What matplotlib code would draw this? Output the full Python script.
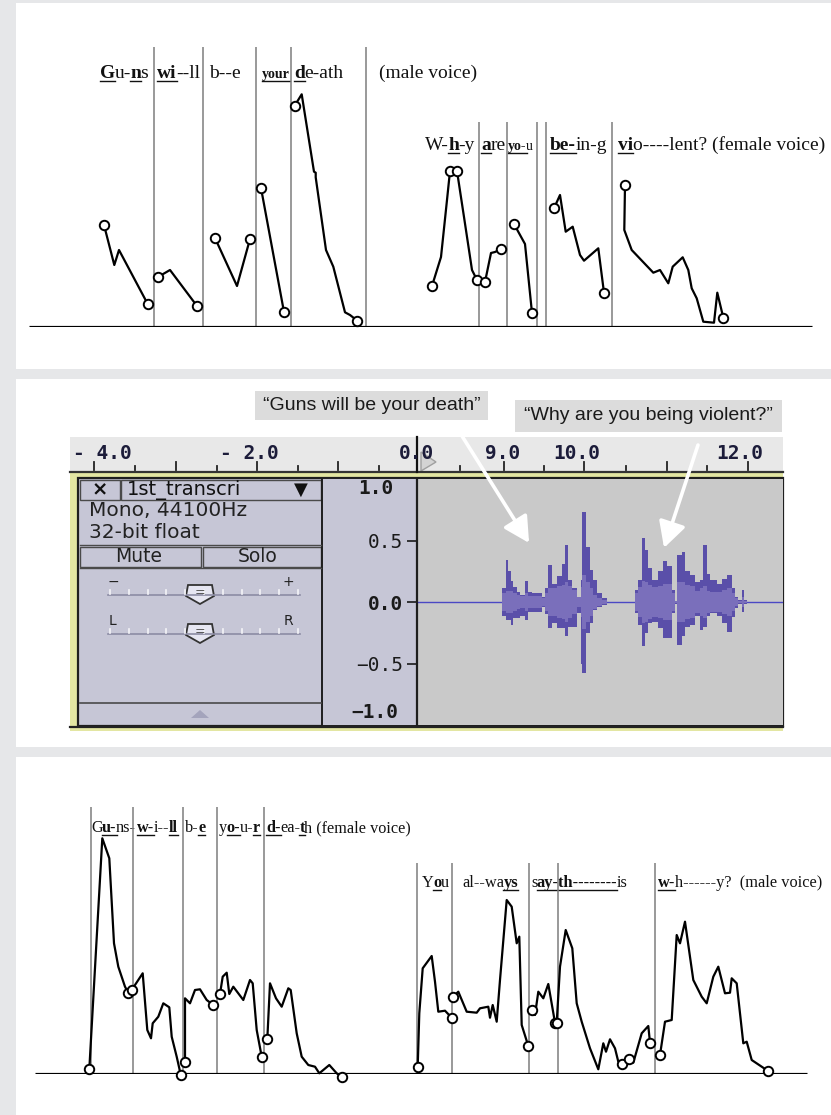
import numpy as np
import matplotlib
matplotlib.use("Agg")
import matplotlib.pyplot as plt
from matplotlib.patches import Rectangle, Polygon

W, H = 831, 1115

# ---------------------------------------------------------------- data
# pitch contours: x = time position, h = pitch height above the baseline
# top panel: "Guns will be your death" (male) / "Why are you being violent?" (female)
t_guns_x = [104, 114.3, 119, 147.7]
t_guns_h = [102, 62, 77, 23]
t_will_x = [158, 170, 197]
t_will_h = [50, 57, 21]
t_be_x = [215, 237, 250]
t_be_h = [89, 41, 88]
t_your_x = [261, 284]
t_your_h = [139, 15]
t_death_x = [294.7, 301.7, 314, 315.7, 315.7, 326, 333.3, 345, 350, 357.3]
t_death_h = [221.3, 232.7, 155.3, 154.3, 149.7, 77, 60.3, 14.7, 12, 6.3]
t_why_x = [432, 441, 447, 450, 457, 464, 472, 477]
t_why_h = [41, 70, 127, 156, 156, 110, 57, 47]
t_are_x = [485, 491, 495, 501]
t_are_h = [45, 74, 75, 78]
t_you_x = [514, 525, 532]
t_you_h = [103, 83, 14]
t_being_x = [554, 560, 565.7, 572.7, 580, 584, 598.3, 604]
t_being_h = [118.7, 132, 95.3, 100.3, 72, 66.3, 78.7, 34.3]
t_viol_x = [625, 624.3, 631.7, 653.3, 660, 668.3, 672.7, 682.7, 688.3, 691.7,
            696.7, 703.3, 714, 717.3, 723.3]
t_viol_h = [142, 97, 77, 54.3, 57, 43.7, 60.3, 69.7, 57, 38.7, 28.7, 5.3, 4.3,
            34.3, 9.3]
top_segments = [(t_guns_x, t_guns_h, [0, 3]), (t_will_x, t_will_h, [0, 2]),
                (t_be_x, t_be_h, [0, 2]), (t_your_x, t_your_h, [0, 1]),
                (t_death_x, t_death_h, [0, 9]), (t_why_x, t_why_h, [0, 3, 4, 7]),
                (t_are_x, t_are_h, [0, 3]), (t_you_x, t_you_h, [0, 2]),
                (t_being_x, t_being_h, [0, 7]), (t_viol_x, t_viol_h, [0, 14])]
top_bounds_a = [154, 203, 256, 291, 366]
top_bounds_b = [479, 507, 537, 546, 612]

# bottom panel: "Guns will be your death" (female) / "You always say this why?" (male)
b_guns_x = [89.3, 102.3, 109.3, 114, 118.3, 125, 128.3]
b_guns_h = [4.7, 235.7, 215.7, 130.7, 107.3, 87.3, 81.3]
b_will_x = [131.7, 142.7, 147.3, 151, 152.7, 158.3, 163.3, 169.3, 171.7, 176.7,
            179.3, 180.7]
b_will_h = [84, 100.7, 44, 35.7, 50.7, 57.3, 70.7, 66.7, 37.3, 17.3, 5.7, -1]
b_be_x = [185, 185, 190, 195, 200, 206.7, 213.3]
b_be_h = [12.3, 75.7, 70.7, 84, 84.7, 74, 69]
b_your_x = [220, 222.7, 226.7, 229.3, 233.3, 243.3, 250, 252.7, 256.7, 261.7]
b_your_h = [80, 97.3, 101.3, 80, 87.3, 74, 94, 90.7, 44, 17.3]
b_death_x = [267.3, 270, 276, 281.7, 288.3, 290.7, 296.7, 301.7, 308.3, 315,
             319.3, 329.3, 336.7, 342.3]
b_death_h = [34.7, 90.7, 75.7, 67.3, 85.7, 84, 40.7, 17.3, 9, 7.3, 0.7, 9, 0.7,
             -3.3]
b_you_x = [417.7, 419.3, 422.7, 431.7, 435, 438.3, 445, 451.7]
b_you_h = [7.3, 60.7, 105.7, 118, 92.3, 62.3, 63.3, 56.3]
b_always_x = [452.7, 458.3, 466.7, 476.7, 480, 488.3, 490, 492.7, 496.7, 500,
              506.7, 511.7, 516.7, 519.3, 521.7, 528.3]
b_always_h = [76.7, 82.3, 62.3, 61.3, 65.7, 67.3, 56.3, 69, 52.3, 94, 174,
              167.3, 130.7, 137.3, 49, 28]
b_say_x = [532.3, 535, 538.3, 543.3, 548.3, 555]
b_say_h = [64, 59, 82.3, 75.7, 90, 51.3]
b_this_x = [556.7, 560, 565.7, 572.3, 576.7, 581.7, 590, 598.3, 603.3, 606, 610,
            615, 618.3, 621.7, 629.3, 633.3, 641.7, 648.3, 650]
b_this_h = [51.3, 107.3, 144, 125.7, 70.7, 52.3, 25.7, 4.7, 30.7, 22.3, 34.7,
            25.7, 12.3, 10, 14.7, 11.3, 40.7, 48, 31.3]
b_whyy_x = [660, 665, 671.7, 676.7, 680, 685, 693.3, 701.7, 706.7, 713.3, 718.3,
            725, 730, 731.7, 736.7, 743.3, 746.7, 751.7, 761.7, 767.7]
b_whyy_h = [19, 52.3, 54, 139, 130.7, 152.3, 94, 77.3, 70.7, 97.3, 107.3, 80.7,
            81.3, 95.7, 90.7, 30.7, 32.3, 14, 7.3, 3.3]
bottom_segments = [(b_guns_x, b_guns_h, [0, 6]), (b_will_x, b_will_h, [0, 11]),
                   (b_be_x, b_be_h, [0, 6]), (b_your_x, b_your_h, [0, 9]),
                   (b_death_x, b_death_h, [0, 13]), (b_you_x, b_you_h, [0, 7]),
                   (b_always_x, b_always_h, [0, 15]), (b_say_x, b_say_h, [0, 5]),
                   (b_this_x, b_this_h, [0, 13, 14, 18]),
                   (b_whyy_x, b_whyy_h, [0, 19])]
bot_bounds_a = [91, 133, 183, 217, 264]
bot_bounds_b = [417, 452, 529, 558, 655]

# waveform (seconds, amplitude): segment edges, peak max/min and rms
wave1_t = [9.004, 9.049, 9.077, 9.110, 9.138, 9.179, 9.220, 9.280, 9.321, 9.362,
           9.484, 9.524, 9.565, 9.613, 9.667, 9.728, 9.768, 9.801, 9.857, 9.911,
           9.963, 9.979, 10.021, 10.073, 10.113, 10.155, 10.216, 10.277]
wave1_max = [0.11, 0.34, 0.25, 0.17, 0.125, 0.084, 0.057, 0.17, 0.084, 0.07,
             0.043, 0.11, 0.30, 0.15, 0.21, 0.31, 0.46, 0.18, 0.11, 0.043, 0.18,
             0.73, 0.45, 0.26, 0.18, 0.07, 0.03]
wave1_min = [-0.11, -0.15, -0.15, -0.19, -0.13, -0.13, -0.11, -0.15, -0.08,
             -0.08, -0.04, -0.10, -0.21, -0.17, -0.21, -0.21, -0.28, -0.20,
             -0.20, -0.09, -0.50, -0.58, -0.25, -0.17, -0.065, -0.04, -0.025]
wave1_rms = [0.07, 0.09, 0.09, 0.09, 0.07, 0.06, 0.05, 0.07, 0.05, 0.05, 0.03,
             0.07, 0.11, 0.11, 0.13, 0.14, 0.16, 0.13, 0.10, 0.04, 0.12, 0.22,
             0.16, 0.11, 0.06, 0.03, 0.015]
wave2_t = [10.622, 10.659, 10.704, 10.744, 10.784, 10.826, 10.906, 10.967,
           11.009, 11.070, 11.110, 11.138, 11.191, 11.232, 11.293, 11.354,
           11.415, 11.455, 11.496, 11.537, 11.618, 11.679, 11.740, 11.801,
           11.841, 11.882, 11.923, 11.951, 11.984]
wave2_max = [0.097, 0.18, 0.52, 0.42, 0.28, 0.18, 0.25, 0.33, 0.29, 0.10, 0.01,
             0.38, 0.41, 0.25, 0.22, 0.16, 0.18, 0.46, 0.23, 0.18, 0.15, 0.19,
             0.22, 0.11, 0.04, 0.015, 0.10, 0.015]
wave2_min = [-0.09, -0.19, -0.36, -0.25, -0.17, -0.16, -0.21, -0.29, -0.29,
             -0.09, -0.02, -0.35, -0.28, -0.20, -0.19, -0.11, -0.23, -0.20,
             -0.11, -0.09, -0.11, -0.17, -0.24, -0.12, -0.05, -0.015, -0.08,
             -0.015]
wave2_rms = [0.07, 0.12, 0.17, 0.16, 0.14, 0.12, 0.13, 0.15, 0.15, 0.07, 0.01,
             0.16, 0.16, 0.14, 0.13, 0.09, 0.11, 0.13, 0.09, 0.08, 0.08, 0.10,
             0.11, 0.07, 0.03, 0.01, 0.04, 0.01]

# labels: (x start, [(text, bold, underline[, size])])
top_left_words = [(100, [("G", 1, 1), ("u-", 0, 0), ("n", 1, 1), ("s", 0, 0)]),
                  (157, [("wi", 1, 1), ("--ll", 0, 0)]),
                  (209, [("b--e", 0, 0)]),
                  (262, [("your", 1, 1, 10)]),
                  (294, [("d", 1, 1), ("e-ath", 0, 0)]),
                  (379, [("(male voice)", 0, 0)])]
top_right_words = [(425, [("W-", 0, 0), ("h", 1, 1), ("-y", 0, 0)]),
                   (481, [("a", 1, 1), ("re", 0, 0)]),
                   (508, [("yo-", 1, 1, 10), ("u", 0, 0, 10)]),
                   (550, [("be-", 1, 1), ("in-g", 0, 0)]),
                   (618, [("vi", 1, 1), ("o----lent? (female voice)", 0, 0)])]
bot_left_words = [(91, [("G", 0, 0), ("u-", 1, 1), ("ns-", 0, 0)]),
                  (137, [("w-", 1, 1), ("i--", 0, 0), ("ll", 1, 1)]),
                  (185, [("b-", 0, 0), ("e", 1, 1)]),
                  (219, [("y", 0, 0), ("o-", 1, 1), ("u-", 0, 0), ("r", 1, 1)]),
                  (266, [("d-", 1, 1), ("ea-", 0, 0), ("t", 1, 1),
                         ("h (female voice)", 0, 0)])]
bot_right_words = [(422, [("Y", 0, 0), ("o", 1, 1), ("u", 0, 0)]),
                   (462, [("al--wa", 0, 0), ("ys", 1, 1)]),
                   (531, [("s", 0, 0), ("ay-th--------", 1, 1), ("is", 0, 0)]),
                   (658, [("w-", 1, 1), ("h------y?  (male voice)", 0, 0)])]

ruler_labels = ["- 4.0", "- 2.0", "0.0", "9.0", "10.0", "12.0"]
ruler_label_x = [73, 220, 399, 485, 553, 716]
ruler_ticks_x = [94, 135, 176, 217, 257, 298, 338, 379,
                 460, 504, 544, 584, 626, 667, 707, 748]
ruler_ticks_major = [1, 0, 1, 0, 1, 0, 1, 0, 0, 1, 0, 1, 0, 1, 0, 1]

# ---------------------------------------------------------------- figure
fig = plt.figure(figsize=(W / 100, H / 100), dpi=100)
fig.patch.set_facecolor("#e6e7e9")
bg = fig.add_axes([0, 0, 1, 1])
bg.set_xlim(0, W)
bg.set_ylim(H, 0)
bg.axis("off")
renderer = fig.canvas.get_renderer()


def px_axes(x0, y0, x1, y1):
    ax = fig.add_axes([x0 / W, 1 - y1 / H, (x1 - x0) / W, (y1 - y0) / H])
    return ax


def rich(words, y, size):
    inv = bg.transData.inverted()
    for x, pieces in words:
        for p in pieces:
            s, bold, under = p[:3]
            fs = p[3] if len(p) > 3 else size
            t = bg.text(x, y, s, fontsize=fs, family="Liberation Serif",
                        fontweight="bold" if bold else "normal",
                        va="baseline", ha="left", color="#111")
            bb = t.get_window_extent(renderer)
            x0 = inv.transform((bb.x0, bb.y0))[0]
            x1 = inv.transform((bb.x1, bb.y0))[0]
            if under:
                bg.plot([x0, x1], [y + 2.5, y + 2.5], color="#111", lw=1.0)
            x = x1 - 0.6


def contour_panel(y_top, y_base, segments, bounds_a, top_a, bounds_b, top_b,
                  x_lo, x_hi):
    ax = px_axes(0, y_top, W, y_base)
    ax.set_xlim(0, W)
    ax.set_ylim(0, y_base - y_top)
    ax.axis("off")
    ax.patch.set_alpha(0)
    ax.vlines(bounds_a, 0, y_base - top_a, color="#7d7d7d", lw=1.1, zorder=1)
    ax.vlines(bounds_b, 0, y_base - top_b, color="#7d7d7d", lw=1.1, zorder=1)
    ax.hlines(0, x_lo, x_hi, color="black", lw=2.3, zorder=2)
    for xs, hs, circ in segments:
        ax.plot(xs, hs, color="black", lw=1.6, zorder=3, clip_on=False)
        ax.plot([xs[i] for i in circ], [hs[i] for i in circ], "o", ms=6.8,
                mfc="white", mec="black", mew=1.4, zorder=4, clip_on=False)
    return ax


# white panels
for y0, y1 in [(3, 369), (379, 747), (757, H)]:
    bg.add_patch(Rectangle((16, y0), W - 16, y1 - y0, fc="white", ec="none"))

# ---------------------------------------------------------------- pitch panels
contour_panel(0, 327, top_segments, top_bounds_a, 47, top_bounds_b, 122, 29, 812)
rich(top_left_words, 78, 14)
rich(top_right_words, 150, 14)

contour_panel(757, 1074, bottom_segments, bot_bounds_a, 807, bot_bounds_b, 863,
              35, 807)
rich(bot_left_words, 832, 11.7)
rich(bot_right_words, 887, 11.8)

# ---------------------------------------------------------------- audacity screenshot
panel_c = "#c6c6d6"
edge_c = "#4a4a4a"
mono = "DejaVu Sans Mono"
sans = "DejaVu Sans"

bg.add_patch(Rectangle((70, 437), 713, 35, fc="#e8e8e8", ec="none"))
bg.add_patch(Rectangle((70, 472), 713, 259, fc="#e3e6a2", ec="none"))
bg.plot([70, 783], [472, 472], color="#333", lw=1.6)
bg.add_patch(Rectangle((78, 478), 705, 248, fc=panel_c, ec="#1e1e1e", lw=1.6))
bg.plot([70, 783], [727, 727], color="#222", lw=1.6)

for lab, x in zip(ruler_labels, ruler_label_x):
    bg.text(x, 459, lab, family=mono, fontweight="bold", fontsize=14,
            color="#1c1c3a", va="baseline", ha="left")
for x, major in zip(ruler_ticks_x, ruler_ticks_major):
    bg.plot([x, x], [462 if major else 466, 470], color="#222", lw=1.3)
bg.plot([417, 417], [437, 472], color="#111", lw=1.6)
bg.add_patch(Polygon([[421, 452], [436, 462], [421, 471]], closed=True,
                     fc="#d4d4d4", ec="#a0a0a0", lw=1))

# track control panel
bg.add_patch(Rectangle((80, 480), 40, 20, fc=panel_c, ec=edge_c, lw=1))
bg.add_patch(Rectangle((121, 480), 200, 20, fc=panel_c, ec=edge_c, lw=1))
bg.text(100, 490, "×", family=sans, fontweight="bold", fontsize=14,
        ha="center", va="center", color="#111")
bg.text(127, 490, "1st_transcri", family=sans, fontsize=14, ha="left",
        va="center", color="#111")
bg.text(301, 490, "▼", family=sans, fontsize=13, ha="center", va="center",
        color="#111")
bg.text(89, 510, "Mono, 44100Hz", family=sans, fontsize=14.5, ha="left",
        va="center", color="#222")
bg.text(89, 533, "32-bit float", family=sans, fontsize=14.5, ha="left",
        va="center", color="#222")
bg.plot([80, 321], [545, 545], color=edge_c, lw=1)
bg.add_patch(Rectangle((80, 547), 121, 20, fc=panel_c, ec=edge_c, lw=1))
bg.add_patch(Rectangle((203, 547), 118, 20, fc=panel_c, ec=edge_c, lw=1))
bg.text(139, 557, "Mute", family=sans, fontsize=13.5, ha="center", va="center",
        color="#222")
bg.text(258, 557, "Solo", family=sans, fontsize=13.5, ha="center", va="center",
        color="#222")
bg.plot([80, 321], [568, 568], color=edge_c, lw=1)

for y_track, lab_l, lab_r in [(595, "−", "+"), (634, "L", "R")]:
    bg.plot([108, 300], [y_track, y_track], color="#8c8ca4", lw=1.2)
    for xt in np.linspace(110, 298, 11):
        bg.plot([xt, xt], [y_track - 5, y_track - 1], color="#f4f4f8", lw=1.2)
    bg.text(113, y_track - 13, lab_l, family=sans, fontsize=10, ha="center",
            va="center", color="#222")
    bg.text(288, y_track - 13, lab_r, family=sans, fontsize=10, ha="center",
            va="center", color="#222")
    bg.add_patch(Polygon([[188, y_track - 10], [212, y_track - 10],
                          [214, y_track + 1], [200, y_track + 9],
                          [186, y_track + 1]], closed=True, fc="#e6e6f2",
                         ec="#333", lw=1.3))
    bg.text(200, y_track - 2, "=", family=sans, fontsize=9, ha="center",
            va="center", color="#555")

bg.plot([80, 321], [703, 703], color=edge_c, lw=1.2)
bg.add_patch(Polygon([[191, 718], [209, 718], [200, 710]], closed=True,
                     fc="#a4a4bc", ec="none"))

# vertical scale panel
bg.add_patch(Rectangle((322, 478), 95, 248, fc=panel_c, ec="#1e1e1e", lw=1.4))
bg.text(376, 489, "1.0", family=mono, fontweight="bold", fontsize=14,
        ha="center", va="center", color="#1a1a1a")
bg.text(398, 713, "−1.0", family=mono, fontweight="bold", fontsize=14,
        ha="right", va="center", color="#1a1a1a")

# waveform
wave = px_axes(417, 479, 783, 725)
wave.set_facecolor("#c9c9c9")
wave.set_xlim(7.963, 12.427)
wave.set_ylim(-1, 1)
wave.set_xticks([])
wave.set_yticks([0.5, 0.0, -0.5])
wave.set_yticklabels(["0.5", "0.0", "−0.5"])
wave.tick_params(axis="y", direction="out", length=7, width=1.2, pad=3,
                 labelsize=14, colors="#1a1a1a")
for lab in wave.get_yticklabels():
    lab.set_family(mono)
    if lab.get_text() == "0.0":
        lab.set_fontweight("bold")
for side in ["top", "right", "bottom"]:
    wave.spines[side].set_visible(False)
wave.spines["left"].set_color("#1e1e1e")
wave.spines["left"].set_linewidth(1.6)
wave.axhline(0, color="#4b48c4", lw=1.0, zorder=1)

for tt, mx, mn, rms in [(wave1_t, wave1_max, wave1_min, wave1_rms),
                        (wave2_t, wave2_max, wave2_min, wave2_rms)]:
    wave.fill_between(tt, mn + mn[-1:], mx + mx[-1:], step="post",
                      color="#5a4fa9", lw=0, zorder=2)
    wave.fill_between(tt, [-v for v in rms + rms[-1:]], rms + rms[-1:],
                      step="post", color="#7a6fbb", lw=0, zorder=3)

# callouts and arrows
bg.add_patch(Rectangle((255, 391), 233, 29, fc="#dcdcdc", ec="none"))
bg.text(371.5, 406, "\u201cGuns will be your death\u201d", family="Liberation Sans",
        fontsize=14, ha="center", va="center", color="#1a1a1a")
bg.add_patch(Rectangle((515, 400), 267, 32, fc="#dcdcdc", ec="none"))
bg.text(648.5, 416, "\u201cWhy are you being violent?\u201d",
        family="Liberation Sans", fontsize=14, ha="center", va="center",
        color="#1a1a1a")

arrow_props = dict(arrowstyle="-|>,head_length=0.6,head_width=0.32",
                   color="white", lw=2.6, mutation_scale=26, shrinkA=0,
                   shrinkB=0)
wave.annotate("", xy=(9.33, 0.48), xycoords="data", xytext=(462, 436),
              textcoords=bg.transData, arrowprops=arrow_props,
              annotation_clip=False)
wave.annotate("", xy=(10.976, 0.44), xycoords="data", xytext=(698, 445),
              textcoords=bg.transData, arrowprops=arrow_props,
              annotation_clip=False)

fig.savefig("out.png", dpi=100, facecolor=fig.get_facecolor())
